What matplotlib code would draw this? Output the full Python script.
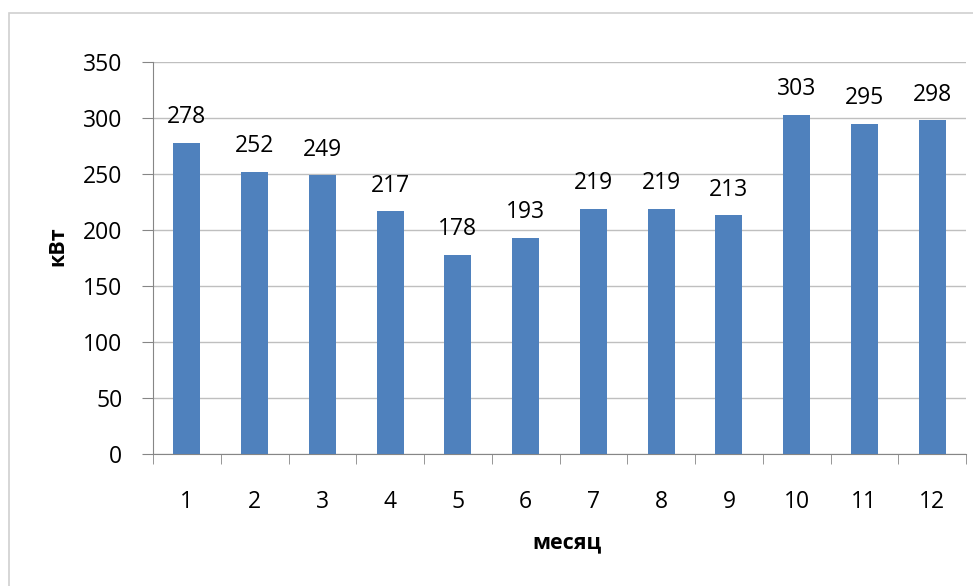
import numpy as np
import matplotlib.pyplot as plt
from matplotlib.patches import Rectangle

months = [1, 2, 3, 4, 5, 6, 7, 8, 9, 10, 11, 12]
power = [278, 252, 249, 217, 178, 193, 219, 219, 213, 303, 295, 298]
y_ticks = [0, 50, 100, 150, 200, 250, 300, 350]

plt.rcParams['font.family'] = ['Open Sans', 'DejaVu Sans']

fig = plt.figure(figsize=(9.73, 5.86), dpi=100)
W, H = 973, 586
# plot area in pixels: left 153, right 966, top 62, bottom 454
ax = fig.add_axes([153 / W, 1 - 454 / H, (966 - 153) / W, (454 - 62) / H])

# outer chart border
fig.patches.append(Rectangle((9 / W, -0.05), 1.0, 1 - 13 / H + 0.05,
                             transform=fig.transFigure, fill=False,
                             edgecolor='#d0d0d0', linewidth=1.2))

x = np.arange(len(months))
ax.bar(x, power, width=0.4, color='#4f81bd', zorder=3)
for xi, v in zip(x, power):
    ax.text(xi, v + 12, str(v), ha='center', va='bottom', fontsize=16.5)

ax.set_xlim(-0.5, len(months) - 0.5)
ax.set_ylim(0, 350)
ax.set_yticks(y_ticks)
ax.set_xticks(x)
ax.set_xticklabels([str(m) for m in months])
ax.set_xticks(np.arange(-0.5, len(months)), minor=True)
ax.tick_params(axis='x', which='major', length=0, pad=26, labelsize=16.5)
ax.tick_params(axis='x', which='minor', length=7, color='#868686', direction='out')
ax.tick_params(axis='y', length=8, color='#868686', labelsize=16.5, pad=14)

ax.grid(axis='y', color='#bfbfbf', linewidth=1, zorder=0)
for s in ['top', 'right']:
    ax.spines[s].set_visible(False)
ax.spines['left'].set_color('#868686')
ax.spines['bottom'].set_color('#868686')

fig.text(58 / W, 1 - 246 / H, 'кВт', rotation=90, ha='center', va='center',
         fontsize=15.5, fontweight='bold')
fig.text(567 / W, 1 - 543 / H, 'месяц', ha='center', va='center',
         fontsize=15.5, fontweight='bold')

fig.savefig('out.png', dpi=100)
